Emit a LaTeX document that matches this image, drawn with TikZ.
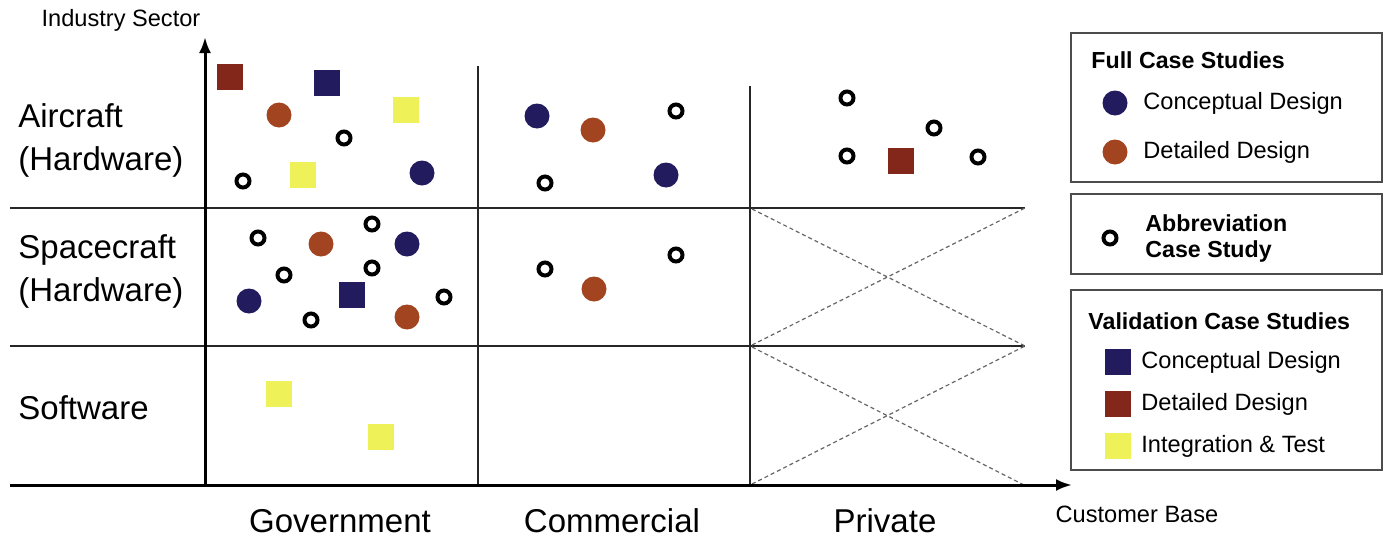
\documentclass[tikz,border=0pt]{standalone}
\usepackage{fontspec}
\setmainfont{Liberation Sans}
\usetikzlibrary{positioning,arrows.meta}
\definecolor{concol}{HTML}{221C5E}
\definecolor{detcol}{HTML}{A2441F}
\definecolor{detsq}{HTML}{84271B}
\definecolor{intcol}{HTML}{EEF158}

\begin{document}
\begin{tikzpicture}[x=0.5pt,y=-0.5pt,
  axis/.style={line width=1.5pt,-{Latex[length=8pt,width=6pt]}},
  gridline/.style={line width=0.7pt, black!85},
  cross/.style={line width=0.6pt, black!60, dash pattern=on 2pt off 1.5pt},
  fullc/.style={circle, fill=#1, minimum size=12.5pt, inner sep=0pt},
  valsq/.style={rectangle, fill=#1, minimum size=13pt, inner sep=0pt},
  abbrev/.style={circle, draw, line width=2pt, minimum size=6.5pt, inner sep=0pt},
  sector/.style={align=left, anchor=west, inner sep=0pt, font=\fontsize{16.5}{21.5}\selectfont},
  cust/.style={font=\fontsize{16.5}{20}\selectfont},
  small/.style={font=\fontsize{11.8}{13}\selectfont},
  legbox/.style={draw=black!70, line width=0.8pt, minimum width=155.5pt, inner sep=0pt},
  legtxt/.style={anchor=west, inner sep=0pt, font=\fontsize{11.8}{13}\selectfont},
  leghead/.style={anchor=west, align=left, inner sep=0pt, font=\fontsize{11.6}{13}\selectfont\bfseries}]
\useasboundingbox (0,0) rectangle (1389,541);

% grid corners
\coordinate (ytip)   at (205,37);
\coordinate (yfoot)  at (205,487);
\coordinate (xstart) at (10,485);
\coordinate (xtip)   at (1072,485);
\coordinate (ra) at (10,208);   \coordinate (rb) at (1025,208);
\coordinate (sa) at (10,346);   \coordinate (sb) at (1025,346);
\coordinate (ca) at (478,66);   \coordinate (cb) at (478,485);
\coordinate (pa) at (750,86);   \coordinate (pb) at (750,485);

\draw[gridline] (ra) -- (rb);
\draw[gridline] (sa) -- (sb);
\draw[gridline] (ca) -- (cb);
\draw[gridline] (pa) -- (pb);
\draw[cross] (752,209) -- (sb);
\draw[cross] (752,345) -- (rb);
\draw[cross] (752,347) -- (1024,485);
\draw[cross] (752,484) -- (sb);
\draw[axis] (yfoot) -- (ytip);
\draw[axis] (xstart) -- (xtip);

% axis labels
\node[small] (ysec) at (121,20) {Industry Sector};
\node[small] (xcust) at (1137,514) {Customer Base};
\node[sector] (air)  at (18,140) {Aircraft\\(Hardware)};
\node[sector] (spc)  at (18,271) {Spacecraft\\(Hardware)};
\node[sector] (soft) at (18,408) {Software};
\node[cust] (gov)  at (340,521) {Government};
\node[cust] (com)  at (612,521) {Commercial};
\node[cust] (priv) at (885,521) {Private};

% full case studies
\node[fullc=detcol] (f1)  at (279,115) {};
\node[fullc=concol] (f2)  at (422,173) {};
\node[fullc=concol] (f3)  at (537,116) {};
\node[fullc=detcol] (f4)  at (593,130) {};
\node[fullc=concol] (f5)  at (666,175) {};
\node[fullc=detcol] (f6)  at (321,244) {};
\node[fullc=concol] (f7)  at (407,244) {};
\node[fullc=concol] (f8)  at (249,301) {};
\node[fullc=detcol] (f9)  at (407,317) {};
\node[fullc=detcol] (f10) at (594,289) {};

% validation case studies
\node[valsq=detsq]  (v1) at (230,77) {};
\node[valsq=concol] (v2) at (327,83) {};
\node[valsq=intcol] (v3) at (406,110) {};
\node[valsq=intcol] (v4) at (303,175) {};
\node[valsq=detsq]  (v5) at (901,161) {};
\node[valsq=concol] (v6) at (352,295) {};
\node[valsq=intcol] (v7) at (279,394) {};
\node[valsq=intcol] (v8) at (381,437) {};

% abbreviation case studies
\foreach \x/\y [count=\i] in {344/138, 243/181, 676/111, 545/183, 847/98, 934/128,
    847/156, 978/157, 258/238, 372/224, 284/275, 372/268, 444/297, 311/320,
    545/269, 676/255}
  \node[abbrev] (o\i) at (\x,\y) {};

% legend
\node[legbox, minimum height=74.5pt] (lg1) at (1226.5,107.5) {};
\node[legbox, minimum height=40pt]   (lg2) at (1226.5,234) {};
\node[legbox, minimum height=90pt]   (lg3) at (1226.5,380) {};

\node[leghead] (h1) at (1091,60) {Full Case Studies};
\node[fullc=concol] (k1) at (1115,103) {};
\node[legtxt] (t1) at (1143,103) {Conceptual Design};
\node[fullc=detcol] (k2) at (1115,152) {};
\node[legtxt] (t2) at (1143,152) {Detailed Design};

\node[abbrev] (k3) at (1110,238) {};
\node[leghead] (t3) at (1145,238) {Abbreviation\\Case Study};

\node[leghead] (h3) at (1088,321) {Validation Case Studies};
\node[valsq=concol] (k4) at (1118,362) {};
\node[legtxt] (t4) at (1141,362) {Conceptual Design};
\node[valsq=detsq] (k5) at (1118,404) {};
\node[legtxt] (t5) at (1141,404) {Detailed Design};
\node[valsq=intcol] (k6) at (1118,446) {};
\node[legtxt] (t6) at (1141,446) {Integration \& Test};
\end{tikzpicture}
\end{document}
